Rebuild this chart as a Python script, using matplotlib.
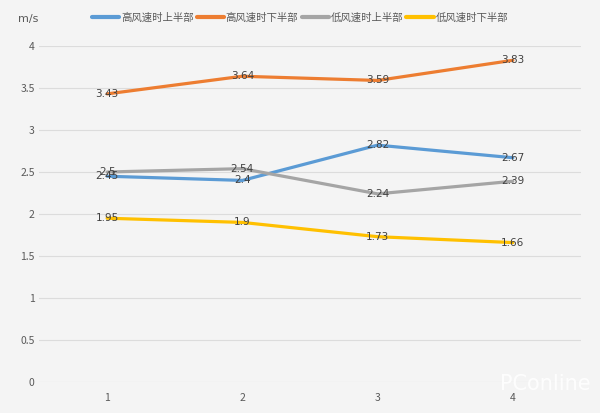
import matplotlib.pyplot as plt

plt.rcParams['font.family'] = ['Noto Sans CJK SC', 'DejaVu Sans']

# Data
categories = ['1', '2', '3', '4']
series_names = ['高风速时上半部', '高风速时下半部', '低风速时上半部', '低风速时下半部']
high_upper = [2.45, 2.4, 2.82, 2.67]
high_lower = [3.43, 3.64, 3.59, 3.83]
low_upper = [2.5, 2.54, 2.24, 2.39]
low_lower = [1.95, 1.9, 1.73, 1.66]
y_ticks = [0, 0.5, 1, 1.5, 2, 2.5, 3, 3.5, 4]

colors = ['#5b9bd5', '#ed7d31', '#a5a5a5', '#ffc000']
all_series = [high_upper, high_lower, low_upper, low_lower]

fig = plt.figure(figsize=(6, 4.13), dpi=100)
fig.patch.set_facecolor('#f4f4f4')
ax = fig.add_axes([0.0658, 0.075, 0.9017, 0.8136])
ax.set_facecolor('#f4f4f4')

x = list(range(len(categories)))
for name, vals, c in zip(series_names, all_series, colors):
    ax.plot(x, vals, color=c, linewidth=2.3, label=name, solid_capstyle='round')
    for xi, v in zip(x, vals):
        ax.text(xi, v, f'{v:g}', ha='center', va='center', fontsize=7.5,
                color='#404040', family=['DejaVu Sans'])

ax.set_xlim(-0.5, len(categories) - 0.5)
ax.set_ylim(0, 4)
ax.set_yticks(y_ticks)
ax.set_yticklabels([f'{t:g}' for t in y_ticks])
ax.set_xticks(x)
ax.set_xticklabels(categories)
ax.tick_params(axis='both', length=0, labelsize=7.5, colors='#595959')
ax.tick_params(axis='x', pad=8)
ax.grid(axis='y', color='#dcdcdc', linewidth=0.8)
ax.set_axisbelow(True)
for s in ax.spines.values():
    s.set_visible(False)

fig.text(0.03, 0.955, 'm/s', fontsize=8, color='#595959', ha='left', va='center',
         family=['DejaVu Sans'])
leg = fig.legend(loc='center', bbox_to_anchor=(0.5, 0.957), ncol=4, frameon=False,
                 fontsize=7.5, handlelength=2.6, columnspacing=0.3, handletextpad=0.2,
                 labelcolor='#595959')
for h in leg.legend_handles:
    h.set_linewidth(3)

fig.text(0.985, 0.07, 'PConline', fontsize=15, color='white', alpha=0.9,
         ha='right', va='center', family=['DejaVu Sans'])

fig.savefig('out.png', dpi=100, facecolor=fig.get_facecolor())
